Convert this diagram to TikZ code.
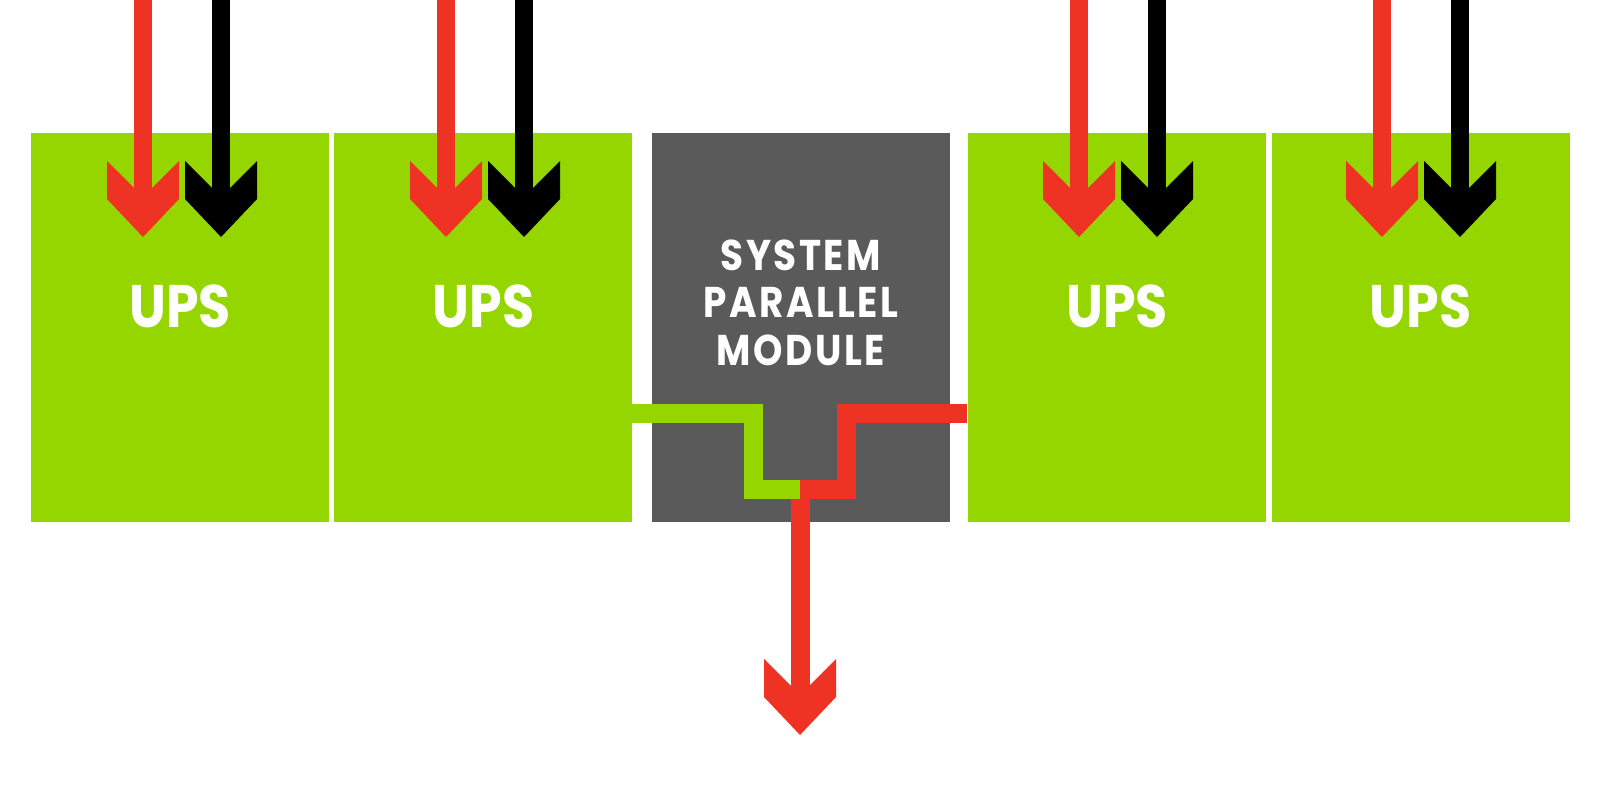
\documentclass[tikz,border=0pt]{standalone}
\usepackage{fontspec}
\setmainfont{Poppins}
\newfontfamily\labelfont[FakeStretch=0.87]{Poppins}
\usepackage{tikz}
\usetikzlibrary{positioning}
\definecolor{upsgreen}{RGB}{149,214,0}
\definecolor{feedred}{RGB}{238,50,36}
\definecolor{spmgray}{RGB}{90,90,90}
\tikzset{
    upsbox/.style={
        fill=upsgreen,
        minimum width=298pt,
        minimum height=389pt,
        inner sep=0pt
    },
    spmbox/.style={upsbox, fill=spmgray},
    boxtext/.style={
        white,
        inner sep=0pt,
        font=\labelfont\bfseries\fontsize{60}{60}\selectfont
    },
    spmtext/.style={
        white,
        inner sep=0pt,
        align=center,
        font=\labelfont\bfseries\addfontfeatures{LetterSpace=6}\fontsize{43}{47.5}\selectfont
    },
    feedline/.style={line width=18pt},
    busline/.style={line width=19pt, line join=miter},
    % chevron head, tip at the origin
    feedhead/.pic={
        \fill[pic actions] (0,0) -- (36,-38) -- (36,-76) -- (9,-49)
            -- (-9,-49) -- (-36,-76) -- (-36,-38) -- cycle;
    }
}

\begin{document}
\begin{tikzpicture}[x=1pt, y=-1pt]
    \useasboundingbox (0,0) rectangle (1600,800);
    \node[upsbox] (ups1) at (180,327.5) {};
    \node[upsbox, right=5pt of ups1] (ups2) {};
    \node[spmbox, right=19pt of ups2] (spm) {};
    \node[upsbox, right=18pt of spm] (ups3) {};
    \node[upsbox, right=5pt of ups3] (ups4) {};

    \node[boxtext] (ups1txt) at ([yshift=21.5pt]ups1.center) {UPS};
    \node[boxtext] (ups2txt) at ([yshift=21.5pt]ups2.center) {UPS};
    \node[boxtext] (ups3txt) at ([yshift=21.5pt]ups3.center) {UPS};
    \node[boxtext] (ups4txt) at ([yshift=21.5pt]ups4.center) {UPS};
    \node[spmtext] (spmtxt) at ([yshift=25pt]spm.center) {SYSTEM\\PARALLEL\\MODULE};

    \path
    (143,0) coordinate (r1) (446,0) coordinate (r2) (1079,0) coordinate (r3) (1382,0) coordinate (r4)
    (221,0) coordinate (k1) (524,0) coordinate (k2) (1157,0) coordinate (k3) (1460,0) coordinate (k4)
    (143,237) coordinate (rt1) (446,237) coordinate (rt2) (1079,237) coordinate (rt3) (1382,237) coordinate (rt4)
    (221,237) coordinate (kt1) (524,237) coordinate (kt2) (1157,237) coordinate (kt3) (1460,237) coordinate (kt4);

    \draw[feedline, feedred] (r1) -- ([yshift=30pt]rt1);
    \draw[feedline, feedred] (r2) -- ([yshift=30pt]rt2);
    \draw[feedline, feedred] (r3) -- ([yshift=30pt]rt3);
    \draw[feedline, feedred] (r4) -- ([yshift=30pt]rt4);
    \draw[feedline, black] (k1) -- ([yshift=30pt]kt1);
    \draw[feedline, black] (k2) -- ([yshift=30pt]kt2);
    \draw[feedline, black] (k3) -- ([yshift=30pt]kt3);
    \draw[feedline, black] (k4) -- ([yshift=30pt]kt4);
    \pic[fill=feedred] at (rt1) {feedhead};
    \pic[fill=feedred] at (rt2) {feedhead};
    \pic[fill=feedred] at (rt3) {feedhead};
    \pic[fill=feedred] at (rt4) {feedhead};
    \pic[fill=black] at (kt1) {feedhead};
    \pic[fill=black] at (kt2) {feedhead};
    \pic[fill=black] at (kt3) {feedhead};
    \pic[fill=black] at (kt4) {feedhead};

    \path
    (632,413.5) coordinate (g1) (753.5,413.5) coordinate (g2) (753.5,489.5) coordinate (g3)
    (967,413.5) coordinate (b1) (846,413.5) coordinate (b2) (846,489.5) coordinate (b3)
    (800,489.5) coordinate (mix) (800,735) coordinate (out);

    \draw[feedline, feedred, line width=19pt] (mix) -- ([yshift=30pt]out);
    \pic[fill=feedred] at (out) {feedhead};
    \draw[busline, upsgreen] (g1) -- (g2) -- (g3) -- (mix);
    \draw[busline, feedred] (b1) -- (b2) -- (b3) -- (mix);
\end{tikzpicture}
\end{document}
